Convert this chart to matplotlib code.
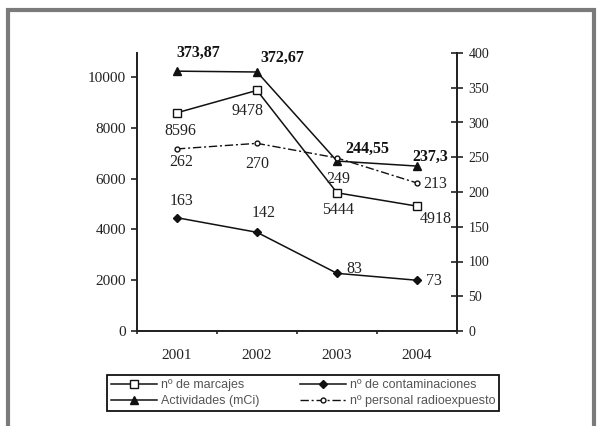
import matplotlib.pyplot as plt
import numpy as np
from matplotlib.patches import Rectangle

years = ["2001", "2002", "2003", "2004"]
marcajes = [8596, 9478, 5444, 4918]
contaminaciones = [163, 142, 83, 73]
actividades = [373.87, 372.67, 244.55, 237.3]
personal = [262, 270, 249, 213]

act_labels = ["373,87", "372,67", "244,55", "237,3"]

# label offsets in pixels (dx, dy) for each series
off_act = [(21, 18), (25, 14), (30, 12), (13, 9)]
off_mar = [(3, -18), (-10, -21), (1, -17), (19, -13)]
off_per = [(4, -13), (0, -21), (1, -21), (18, -1)]
off_con = [(5, 17), (7, 19), (17, 4), (17, -1)]

serif = "Liberation Serif"
sans = "Liberation Sans"

fig = plt.figure(figsize=(5.97, 4.26), dpi=100)
fig.patch.set_facecolor("white")

# grey frame around the chart
fig.patches.append(Rectangle((8 / 597, -0.2), (594 - 8) / 597, 1.2 - 10 / 426,
                             transform=fig.transFigure, fill=False,
                             edgecolor="#7b7b7b", linewidth=3))

ax = fig.add_axes([137 / 597, 1 - 331 / 426, 320 / 597, 278 / 426])
ax2 = ax.twinx()

x = np.arange(len(years))
lc = "#111111"

l1, = ax.plot(x, marcajes, color=lc, lw=1.1, marker="s", ms=5.5,
              mfc="white", mec=lc, mew=1.0, label="nº de marcajes")
l2, = ax2.plot(x, contaminaciones, color=lc, lw=1.1, marker="D", ms=4,
               mfc=lc, mec=lc, label="nº de contaminaciones")
l3, = ax2.plot(x, actividades, color=lc, lw=1.1, marker="^", ms=5.5,
               mfc=lc, mec=lc, label="Actividades (mCi)")
l4, = ax2.plot(x, personal, color=lc, lw=1.0, ls=(0, (6, 2, 1.5, 2)),
               marker="o", ms=3.5, mfc="white", mec=lc, mew=1.0,
               label="nº personal radioexpuesto")

for i in range(len(years)):
    ax2.annotate(act_labels[i], (x[i], actividades[i]), xytext=off_act[i],
                 textcoords="offset pixels", ha="center", va="center",
                 fontsize=11.5, fontweight="bold", family=serif, color=lc)
    ax.annotate(str(marcajes[i]), (x[i], marcajes[i]), xytext=off_mar[i],
                textcoords="offset pixels", ha="center", va="center",
                fontsize=11.5, family=serif, color="#222222")
    ax2.annotate(str(personal[i]), (x[i], personal[i]), xytext=off_per[i],
                 textcoords="offset pixels", ha="center", va="center",
                 fontsize=11.5, family=serif, color="#222222")
    ax2.annotate(str(contaminaciones[i]), (x[i], contaminaciones[i]),
                 xytext=off_con[i], textcoords="offset pixels",
                 ha="center", va="center", fontsize=11.5, family=serif,
                 color="#222222")

ax.set_xlim(-0.5, 3.5)
ax.set_ylim(0, 10950)
ax2.set_ylim(0, 400)

ax.set_yticks(np.arange(0, 10001, 2000))
ax2.set_yticks(np.arange(0, 401, 50))
ax.set_xticks(x)
ax.set_xticklabels(years)
ax.set_xticks(np.arange(-0.5, 4, 1), minor=True)

for a in (ax, ax2):
    a.spines["top"].set_visible(False)
    for s in a.spines.values():
        s.set_linewidth(1.3)
        s.set_color("#222222")
    a.set_facecolor("none")

ax.tick_params(axis="y", direction="out", length=4, width=1.2, pad=4,
               labelsize=11, colors="#222222")
for t in ax.get_yticklabels():
    t.set_family(serif)
ax2.tick_params(axis="y", direction="inout", length=8.5, width=1.2, pad=4,
                labelsize=10, colors="#222222")
for t in ax2.get_yticklabels():
    t.set_family(serif)
ax.tick_params(axis="x", which="major", length=0, pad=13, labelsize=11,
               colors="#222222")
ax.tick_params(axis="x", which="minor", direction="out", length=2.5, width=1.2,
               color="#222222")
for t in ax.get_xticklabels():
    t.set_family(serif)

leg = fig.legend(handles=[l1, l3, l2, l4], ncol=2, loc="lower left",
                 bbox_to_anchor=(107 / 597, 1 - 411 / 426, 392 / 597, 38 / 426),
                 mode="expand", borderaxespad=0, fancybox=False,
                 prop={"family": sans, "size": 9}, handlelength=3.7,
                 handletextpad=0.3, columnspacing=1.0, borderpad=0.3,
                 labelspacing=0.35, edgecolor="#111111", framealpha=1)
leg.get_frame().set_linewidth(1.3)
for t in leg.get_texts():
    t.set_color("#555555")

fig.savefig("out.png", dpi=100, facecolor="white")
